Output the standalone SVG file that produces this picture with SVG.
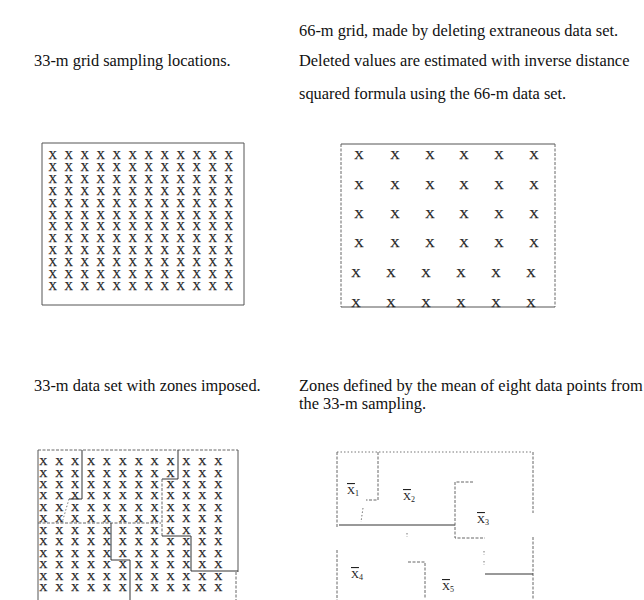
<svg xmlns="http://www.w3.org/2000/svg" width="644" height="600" viewBox="0 0 644 600">
<style>
.cap{font-family:"Liberation Serif","Times New Roman",serif;font-size:16.4px;fill:#111}
.xs{font-family:"Liberation Serif","Times New Roman",serif;font-size:11.6px;fill:#1a1a1a;stroke:#333;stroke-width:0.25;text-anchor:middle}
.xm{font-family:"Liberation Serif","Times New Roman",serif;font-size:13px;fill:#1a1a1a;stroke:#333;stroke-width:0.25;text-anchor:middle}
.xb{font-family:"Liberation Serif","Times New Roman",serif;font-size:11.2px;fill:#1a1a1a;stroke:#333;stroke-width:0.25;text-anchor:middle}
.lab{font-family:"Liberation Serif","Times New Roman",serif;font-size:11px;fill:#222}
.sub{font-size:8px}
.bd{fill:none;stroke:#555;stroke-width:1}
.ds{fill:none;stroke:#666;stroke-width:1;stroke-dasharray:3 1.5}
.dt{fill:none;stroke:#777;stroke-width:1;stroke-dasharray:1.5 2}
.zn{fill:none;stroke:#333;stroke-width:1}
</style>
<rect width="644" height="600" fill="#fff"/>

<g id="captions">
<text class="cap" x="299" y="36">66-m grid, made by deleting extraneous data set.</text>
<text class="cap" x="34" y="66">33-m grid sampling locations.</text>
<text class="cap" x="299" y="66">Deleted values are estimated with inverse distance</text>
<text class="cap" x="299" y="99">squared formula using the 66-m data set.</text>
<text class="cap" x="34" y="391">33-m data set with zones imposed.</text>
<text class="cap" x="299" y="391">Zones defined by the mean of eight data points from</text>
<text class="cap" x="299" y="409">the 33-m sampling.</text>
</g>

<g id="grid33">
<path class="bd" d="M42,143 H244 V305 H42 Z"/>
<g class="xs">
<text x="52.7 68.7 84.7 100.7 116.7 132.7 148.7 164.7 180.7 196.7 212.7 228.7" y="159">XXXXXXXXXXXX</text>
<text x="52.7 68.7 84.7 100.7 116.7 132.7 148.7 164.7 180.7 196.7 212.7 228.7" y="170.9">XXXXXXXXXXXX</text>
<text x="52.7 68.7 84.7 100.7 116.7 132.7 148.7 164.7 180.7 196.7 212.7 228.7" y="182.8">XXXXXXXXXXXX</text>
<text x="52.7 68.7 84.7 100.7 116.7 132.7 148.7 164.7 180.7 196.7 212.7 228.7" y="194.7">XXXXXXXXXXXX</text>
<text x="52.7 68.7 84.7 100.7 116.7 132.7 148.7 164.7 180.7 196.7 212.7 228.7" y="206.6">XXXXXXXXXXXX</text>
<text x="52.7 68.7 84.7 100.7 116.7 132.7 148.7 164.7 180.7 196.7 212.7 228.7" y="218.5">XXXXXXXXXXXX</text>
<text x="52.7 68.7 84.7 100.7 116.7 132.7 148.7 164.7 180.7 196.7 212.7 228.7" y="230.4">XXXXXXXXXXXX</text>
<text x="52.7 68.7 84.7 100.7 116.7 132.7 148.7 164.7 180.7 196.7 212.7 228.7" y="242.3">XXXXXXXXXXXX</text>
<text x="52.7 68.7 84.7 100.7 116.7 132.7 148.7 164.7 180.7 196.7 212.7 228.7" y="254.2">XXXXXXXXXXXX</text>
<text x="52.7 68.7 84.7 100.7 116.7 132.7 148.7 164.7 180.7 196.7 212.7 228.7" y="266.1">XXXXXXXXXXXX</text>
<text x="52.7 68.7 84.7 100.7 116.7 132.7 148.7 164.7 180.7 196.7 212.7 228.7" y="278">XXXXXXXXXXXX</text>
<text x="52.7 68.7 84.7 100.7 116.7 132.7 148.7 164.7 180.7 196.7 212.7 228.7" y="289.9">XXXXXXXXXXXX</text>
</g>
</g>

<g id="grid66">
<path class="ds" d="M341,144 V307"/>
<path class="bd" d="M341,144 H555"/>
<path class="ds" d="M555,144 V307"/>
<path class="bd" d="M341,307 H555"/>
<g class="xm">
<text x="359 395 430 464 499 534" y="159.3">XXXXXX</text>
<text x="359 395 430 464 499 534" y="189.3">XXXXXX</text>
<text x="359 395 430 464 499 534" y="218.3">XXXXXX</text>
<text x="359 395 430 464 499 534" y="247.3">XXXXXX</text>
<text x="356 391 426 461 496 531" y="277.3">XXXXXX</text>
<text x="356 391 426 461 496 531" y="307.3">XXXXXX</text>
</g>
</g>

<g id="zones33">
<path class="ds" d="M38,450 H238"/>
<path class="bd" d="M38,450 V600"/>
<path class="bd" d="M238,450 V572"/>
<path class="ds" d="M236,572 V600"/>
<g class="xb">
<text x="43.3 59.2 75.1 91 106.9 122.8 138.7 154.6 170.5 186.4 202.3 218.2" y="465">XXXXXXXXXXXX</text>
<text x="43.3 59.2 75.1 91 106.9 122.8 138.7 154.6 170.5 186.4 202.3 218.2" y="476.5">XXXXXXXXXXXX</text>
<text x="43.3 59.2 75.1 91 106.9 122.8 138.7 154.6 170.5 186.4 202.3 218.2" y="487.9">XXXXXXXXXXXX</text>
<text x="43.3 59.2 75.1 91 106.9 122.8 138.7 154.6 170.5 186.4 202.3 218.2" y="499.4">XXXXXXXXXXXX</text>
<text x="43.3 59.2 75.1 91 106.9 122.8 138.7 154.6 170.5 186.4 202.3 218.2" y="510.8">XXXXXXXXXXXX</text>
<text x="43.3 59.2 75.1 91 106.9 122.8 138.7 154.6 170.5 186.4 202.3 218.2" y="522.3">XXXXXXXXXXXX</text>
<text x="43.3 59.2 75.1 91 106.9 122.8 138.7 154.6 170.5 186.4 202.3 218.2" y="533.7">XXXXXXXXXXXX</text>
<text x="43.3 59.2 75.1 91 106.9 122.8 138.7 154.6 170.5 186.4 202.3 218.2" y="545.2">XXXXXXXXXXXX</text>
<text x="43.3 59.2 75.1 91 106.9 122.8 138.7 154.6 170.5 186.4 202.3 218.2" y="556.6">XXXXXXXXXXXX</text>
<text x="43.3 59.2 75.1 91 106.9 122.8 138.7 154.6 170.5 186.4 202.3 218.2" y="568.1">XXXXXXXXXXXX</text>
<text x="43.3 59.2 75.1 91 106.9 122.8 138.7 154.6 170.5 186.4 202.3 218.2" y="579.5">XXXXXXXXXXXX</text>
<text x="43.3 59.2 75.1 91 106.9 122.8 138.7 154.6 170.5 186.4 202.3 218.2" y="591">XXXXXXXXXXXX</text>
</g>
<path class="zn" d="M82,450 V499 H69"/>
<path class="dt" d="M69,499 L62,523"/>
<path class="ds" d="M38,523 H161"/>
<path class="zn" d="M178,450 V479 H162"/>
<path class="ds" d="M162,479 V536"/>
<path class="zn" d="M162,536 H191 V571 H238"/>
<path class="zn" d="M111,523 V560 H130 V600"/>
</g>

<g id="zonemeans">
<path class="dt" d="M337,452 H533"/>
<path class="ds" d="M337,452 V527 M337,550 V600"/>
<path class="ds" d="M533,452 V513 M533,537 V600"/>
<path class="ds" d="M378,452 V500 H366"/>
<path class="dt" d="M363,508 L361,522"/>
<path class="zn" d="M339,525 H455"/>
<path class="ds" d="M473,482 H455 V538 H485"/>
<path class="dt" d="M484,551 V555 M484,561 V565"/>
<path class="zn" d="M485,574 H533"/>
<path class="ds" d="M408,562 H425 V598"/>
<path class="dt" d="M407,533 V537"/>
<text class="lab" x="347" y="494"><tspan text-decoration="overline">X</tspan><tspan class="sub" dy="2">1</tspan></text>
<text class="lab" x="403" y="500"><tspan text-decoration="overline">X</tspan><tspan class="sub" dy="2">2</tspan></text>
<text class="lab" x="477" y="523"><tspan text-decoration="overline">X</tspan><tspan class="sub" dy="2">3</tspan></text>
<text class="lab" x="351" y="578"><tspan text-decoration="overline">X</tspan><tspan class="sub" dy="2">4</tspan></text>
<text class="lab" x="442" y="590"><tspan text-decoration="overline">X</tspan><tspan class="sub" dy="2">5</tspan></text>
</g>
</svg>
